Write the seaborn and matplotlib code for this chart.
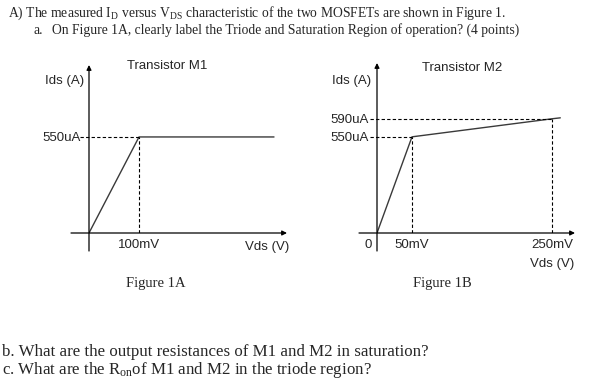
import matplotlib
matplotlib.use("Agg")
import matplotlib.pyplot as plt
import numpy as np
import seaborn as sns

W, H = 592, 381

# --- data (Vds in mV, Ids in uA) ---
m1_vds = [0, 100, 370]
m1_ids = [0, 550, 550]
m1_xticks = [100]
m1_xlabels = ["100mV"]
m1_yticks = [550]
m1_ylabels = ["550uA"]

m2_vds = [0, 50, 250, 262]
m2_ids = [0, 550, 590, 592]
m2_xticks = [50, 250]
m2_xlabels = ["50mV", "250mV"]
m2_yticks = [550, 590]
m2_ylabels = ["550uA", "590uA"]

# the sketch is not to scale on the current axis, a power scale mimics it
P = 2.45


def fwd(y):
    return np.sign(y) * np.abs(y) ** P


def inv(y):
    return np.sign(y) * np.abs(y) ** (1 / P)


sns.set_theme(style="white")
plt.rcParams["font.family"] = ["Liberation Sans", "DejaVu Sans"]

fig = plt.figure(figsize=(W / 100, H / 100), dpi=100)


def ftext(x, y, s, **kw):
    kw.setdefault("va", "center")
    fig.text(x / W, 1 - y / H, s, **kw)


def panel(x0, y0, w, h, vds, ids, xmax, ymax, xticks, xlabels, yticks, ylabels, dash_from):
    """Draw one Ids-Vds sketch with its origin at pixel (x0, y0)."""
    ax = fig.add_axes([x0 / W, (H - y0) / H, w / W, h / H])
    sns.lineplot(x=vds, y=ids, ax=ax, color="#3a3a3a", lw=1.0, sort=False)
    ax.set_yscale("function", functions=(fwd, inv))
    ax.set_xlim(0, xmax)
    ax.set_ylim(0, ymax)
    for s in ax.spines.values():
        s.set_visible(False)
    ax.set_xticks(xticks)
    ax.set_xticklabels(xlabels)
    ax.set_yticks(yticks)
    ax.set_yticklabels(ylabels)
    ax.minorticks_off()
    ax.tick_params(axis="x", length=0, pad=4, labelsize=9.5)
    ax.tick_params(axis="y", length=0, pad=6, labelsize=9.5)

    # axes with arrow heads
    ext = 18
    arrow = dict(arrowstyle="-|>", color="black", lw=0.9, mutation_scale=7,
                 shrinkA=0, shrinkB=0)
    ax.annotate("", xy=(1, 0), xytext=(-ext / w, 0), xycoords="axes fraction",
                arrowprops=arrow)
    ax.annotate("", xy=(0, 1), xytext=(0, -ext / h), xycoords="axes fraction",
                arrowprops=arrow)

    # dashed guide lines to the labelled points
    for x, y in zip(xticks, [ids[vds.index(v)] for v in xticks]):
        ax.vlines(x, 0, y, colors="black", linestyles=(0, (3, 2)), lw=0.8)
    for y in yticks:
        x = vds[ids.index(y)]
        ax.hlines(y, dash_from, x, colors="black", linestyles=(0, (3, 2)),
                  lw=0.8, clip_on=False)
    return ax


panel(89, 233, 198, 168, m1_vds, m1_ids, 396, 691,
      m1_xticks, m1_xlabels, m1_yticks, m1_ylabels, -18)
panel(377, 233, 198, 170, m2_vds, m2_ids, 283, 694,
      m2_xticks, m2_xlabels, m2_yticks, m2_ylabels, -10)

# panel labels
ftext(65, 81, "Ids (A)", ha="center", fontsize=9.5)
ftext(167, 66, "Transistor M1", ha="center", fontsize=9.5)
ftext(267, 247, "Vds (V)", ha="center", fontsize=9.5)
ftext(352, 81, "Ids (A)", ha="center", fontsize=9.5)
ftext(462, 68, "Transistor M2", ha="center", fontsize=9.5)
ftext(372, 245, "0", ha="right", fontsize=9.5)
ftext(552, 264, "Vds (V)", ha="center", fontsize=9.5)

serif = ["Liberation Serif", "DejaVu Serif"]
ftext(156, 283, "Figure 1A", ha="center", fontsize=10.5, family=serif)
ftext(442, 283, "Figure 1B", ha="center", fontsize=10.5, family=serif)

# question text
ftext(8, 13, r"A) The measured $\mathregular{I_D}$ versus $\mathregular{V_{DS}}$"
      " characteristic of the two MOSFETs are shown in Figure 1.",
      ha="left", fontsize=9.8, family=serif)
ftext(33, 30, "a.", ha="left", fontsize=9.8, family=serif)
ftext(52, 30, "On Figure 1A, clearly label the Triode and Saturation Region of"
      " operation? (4 points)", ha="left", fontsize=9.8, family=serif)
ftext(2, 352, "b. What are the output resistances of M1 and M2 in saturation?",
      ha="left", fontsize=12.2, family=serif)
ftext(2, 370, r"c. What are the $\mathregular{R_{on}}$of M1 and M2 in the triode region?",
      ha="left", fontsize=12.2, family=serif)

fig.savefig("out.png", dpi=100)
